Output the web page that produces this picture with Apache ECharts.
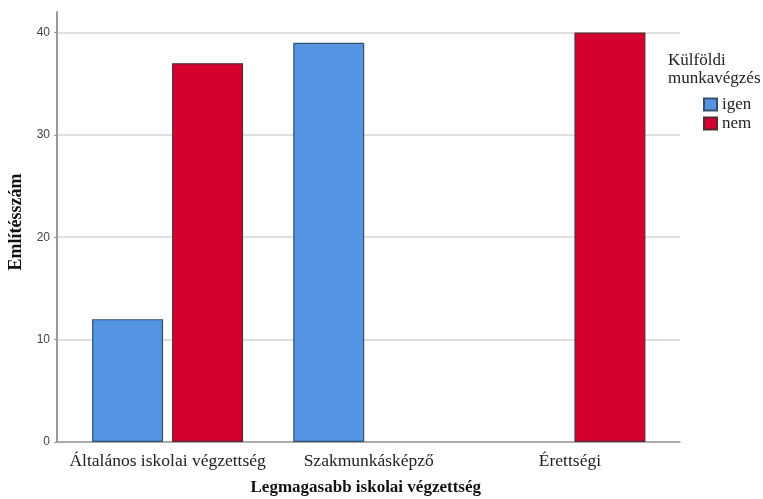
<!DOCTYPE html>
<html><head><meta charset="utf-8">
<script src="https://cdn.jsdelivr.net/npm/echarts@6/dist/echarts.min.js"></script>
<style>html,body{margin:0;padding:0;background:#fff}#c{width:763px;height:499px}</style>
</head><body><div id="c"></div>
<script>
const categories = ['Általános iskolai végzettség', 'Szakmunkásképző', 'Érettségi'];
const igenValues = [12, 39, null];
const nemValues = [37, null, 40];
const yTicks = [0, 10, 20, 30, 40];
const seriesNames = ['igen', 'nem'];
const legendTitle = 'Külföldi\nmunkavégzés';
const xTitle = 'Legmagasabb iskolai végzettség';
const yTitle = 'Említésszám';

const serif = '"Liberation Serif", "DejaVu Serif", serif';
const chart = echarts.init(document.getElementById('c'));
chart.setOption({
  animation: false,
  backgroundColor: '#fff',
  title: {
    text: legendTitle, left: 663, top: 47,
    textStyle: { fontFamily: serif, fontSize: 17, fontWeight: 'normal', color: '#222', lineHeight: 18 }
  },
  legend: {
    orient: 'vertical', left: 698, top: 91, itemWidth: 13, itemHeight: 12, itemGap: 2,
    icon: 'rect', data: seriesNames,
    textStyle: { fontFamily: serif, fontSize: 17, color: '#222' }
  },
  grid: [
    { left: 57, right: 83, top: 12, bottom: 57, outerBoundsMode: 'none', containLabel: false },
    { left: 67, right: 92.5, top: 12, bottom: 57, outerBoundsMode: 'none', containLabel: false }
  ],
  xAxis: [
    { gridIndex: 0, type: 'value', min: 0, max: 1,
      axisLine: { show: true, lineStyle: { color: '#9a9a9a', width: 1.5 } },
      axisTick: { show: false }, axisLabel: { show: false }, splitLine: { show: false } },
    { gridIndex: 1, type: 'category', data: categories,
      axisLine: { show: false }, axisTick: { show: false },
      axisLabel: { fontFamily: serif, fontSize: 17.5, color: '#222', margin: 10, interval: 0 },
      name: xTitle, nameLocation: 'middle', nameGap: 37,
      nameTextStyle: { fontFamily: serif, fontSize: 17, fontWeight: 'bold', color: '#111', padding: [0, 6, 0, 0] } }
  ],
  yAxis: [
    { gridIndex: 0, type: 'value', min: 0, max: 42, interval: 10,
      axisLine: { show: true, lineStyle: { color: '#9a9a9a', width: 2 } },
      axisTick: { show: true, length: 3, lineStyle: { color: '#9a9a9a' } },
      axisLabel: { fontFamily: 'Arial, "Liberation Sans", sans-serif', fontSize: 12, color: '#444', margin: 7,
        showMaxLabel: false, formatter: v => (yTicks.indexOf(v) >= 0 ? String(v) : '') },
      splitLine: { show: true, showMaxLine: false, lineStyle: { color: '#d6d6d6', width: 1.5 } },
      name: yTitle, nameLocation: 'middle', nameRotate: 90, nameGap: 27,
      nameTextStyle: { fontFamily: serif, fontSize: 18, fontWeight: 'bold', color: '#111', padding: [0, 0, 0, 10] } },
    { gridIndex: 1, type: 'value', min: 0, max: 42, interval: 10, show: false, splitLine: { show: false } }
  ],
  series: [
    { name: seriesNames[0], type: 'bar', xAxisIndex: 1, yAxisIndex: 1, data: igenValues,
      barWidth: 71, barGap: '12.7%',
      itemStyle: { color: '#5594e2', borderColor: '#34506e', borderWidth: 1.2 } },
    { name: seriesNames[1], type: 'bar', xAxisIndex: 1, yAxisIndex: 1, data: nemValues,
      barWidth: 71, barGap: '12.7%',
      itemStyle: { color: '#d50030', borderColor: '#5a2a30', borderWidth: 1.2 } }
  ]
});
</script></body></html>
